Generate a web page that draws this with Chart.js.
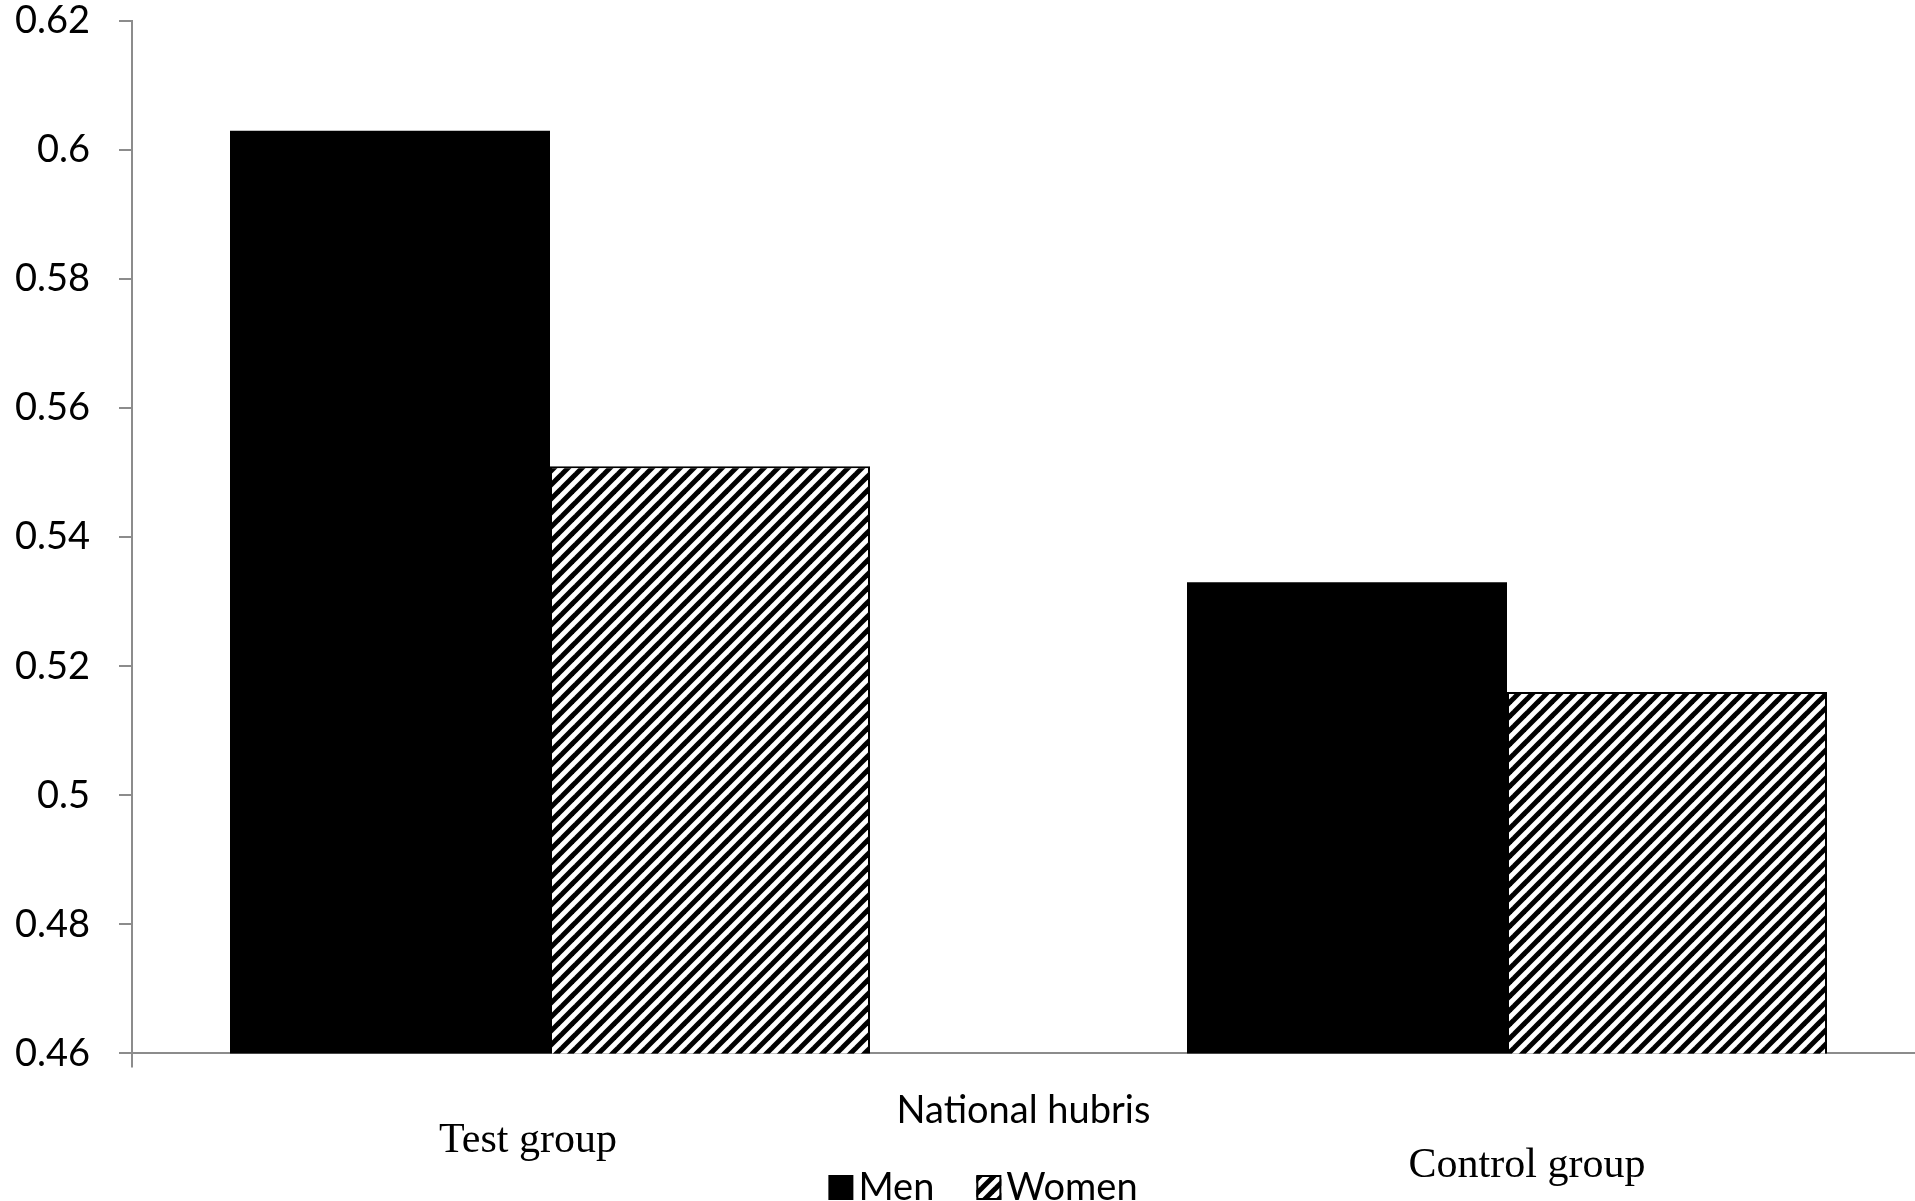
<!DOCTYPE html>
<html>
<head>
<meta charset="utf-8">
<script src="https://cdn.jsdelivr.net/npm/chart.js@4"></script>
<style>
  body { margin: 0; background: #fff; overflow: hidden; }
</style>
</head>
<body>
<canvas id="myChart" width="1915" height="1201"></canvas>
<script>
// chart data
const categories = ['Test group', 'Control group'];
const menValues = [0.603, 0.533];
const womenValues = [0.551, 0.516];
const seriesNames = ['Men', 'Women'];
const axisTitle = 'National hubris';
const yTicks = [0.46, 0.48, 0.5, 0.52, 0.54, 0.56, 0.58, 0.6, 0.62];

const axisGray = '#8c8c8c';

// diagonal stripes for the women bars
const makeHatch = () => {
  const s = 14;
  const tile = document.createElement('canvas');
  tile.width = s;
  tile.height = s;
  const c = tile.getContext('2d');
  c.fillStyle = '#fff';
  c.fillRect(0, 0, s, s);
  c.strokeStyle = '#000';
  c.lineWidth = 5;
  [0, s, 2 * s].forEach((k) => {
    c.beginPath();
    c.moveTo(k + 2, -2);
    c.lineTo(k - s - 2, s + 2);
    c.stroke();
  });
  return c.createPattern(tile, 'repeat');
};

const ctx = document.getElementById('myChart');
const hatch = makeHatch();

// category label placement as in the original figure
const labelPlace = [
  { dx: -22, y: 1152 },
  { dx: 20, y: 1177 },
];

const extrasPlugin = {
  id: 'extras',
  afterDraw(chart) {
    const g = chart.ctx;
    const xs = chart.scales.x;
    g.save();
    g.fillStyle = '#000';
    g.textBaseline = 'alphabetic';

    // group names under the axis
    g.font = '42px "Liberation Serif", "Times New Roman", serif';
    g.textAlign = 'center';
    categories.forEach((name, i) => {
      const px = xs.getPixelForValue(i + 1) + labelPlace[i].dx;
      g.fillText(name, px, labelPlace[i].y);
    });

    // legend
    g.font = '38px Lato, sans-serif';
    g.textAlign = 'left';
    const box = 25;
    const gap = 5;
    const itemGap = 42;
    const widths = seriesNames.map((n) => box + gap + g.measureText(n).width);
    const total = widths.reduce((a, b) => a + b, 0) + itemGap;
    let x = 983 - total / 2;
    const baseY = 1200;
    chart.data.datasets.forEach((ds, i) => {
      g.fillStyle = ds.backgroundColor;
      g.fillRect(x, baseY - box, box, box);
      if (ds.borderWidth) {
        g.strokeStyle = '#000';
        g.lineWidth = 2;
        g.strokeRect(x + 1, baseY - box + 1, box - 2, box - 2);
      }
      g.fillStyle = '#000';
      g.fillText(ds.label, x + box + gap, baseY);
      x += widths[i] + itemGap;
    });
    g.restore();
  },
};

const xMin = 1 - 418 / 957;
const xMax = 2 + 408 / 957;

new Chart(ctx, {
  type: 'bar',
  data: {
    datasets: [
      {
        label: seriesNames[0],
        data: menValues.map((v, i) => ({ x: i + 1, y: v })),
        backgroundColor: '#000',
        borderWidth: 0,
      },
      {
        label: seriesNames[1],
        data: womenValues.map((v, i) => ({ x: i + 1, y: v })),
        backgroundColor: hatch,
        borderColor: '#000',
        borderWidth: 2,
      },
    ],
  },
  options: {
    responsive: false,
    animation: false,
    categoryPercentage: 640 / 957,
    barPercentage: 1,
    layout: {
      padding: { top: 21, right: 0, bottom: 67, left: 0 },
    },
    plugins: {
      legend: { display: false },
      tooltip: { enabled: false },
    },
    scales: {
      x: {
        type: 'linear',
        offset: false,
        min: xMin,
        max: xMax,
        afterBuildTicks: (axis) => {
          axis.ticks = [{ value: axis.min }];
        },
        ticks: { display: false },
        grid: {
          display: true,
          offset: false,
          drawOnChartArea: false,
          drawTicks: true,
          tickLength: 14,
          color: axisGray,
          lineWidth: 2,
        },
        border: { display: true, color: axisGray, width: 2 },
        title: {
          display: true,
          text: axisTitle,
          color: '#000',
          font: { family: 'Lato', size: 38 },
          padding: { top: 21, bottom: 0 },
        },
      },
      y: {
        min: yTicks[0],
        max: yTicks[yTicks.length - 1],
        afterFit: (axis) => {
          axis.width = 132;
          axis.paddingTop = 0;
          axis.paddingBottom = 0;
        },
        afterBuildTicks: (axis) => {
          axis.ticks = yTicks.map((v) => ({ value: v }));
        },
        ticks: {
          color: '#000',
          font: { family: 'Lato', size: 38 },
          padding: 29,
          callback: (v) => String(+v.toFixed(2)),
        },
        grid: {
          display: true,
          drawOnChartArea: false,
          drawTicks: true,
          tickLength: 13,
          color: axisGray,
          lineWidth: 2,
        },
        border: { display: true, color: axisGray, width: 2 },
      },
    },
  },
  plugins: [extrasPlugin],
});
</script>
</body>
</html>
